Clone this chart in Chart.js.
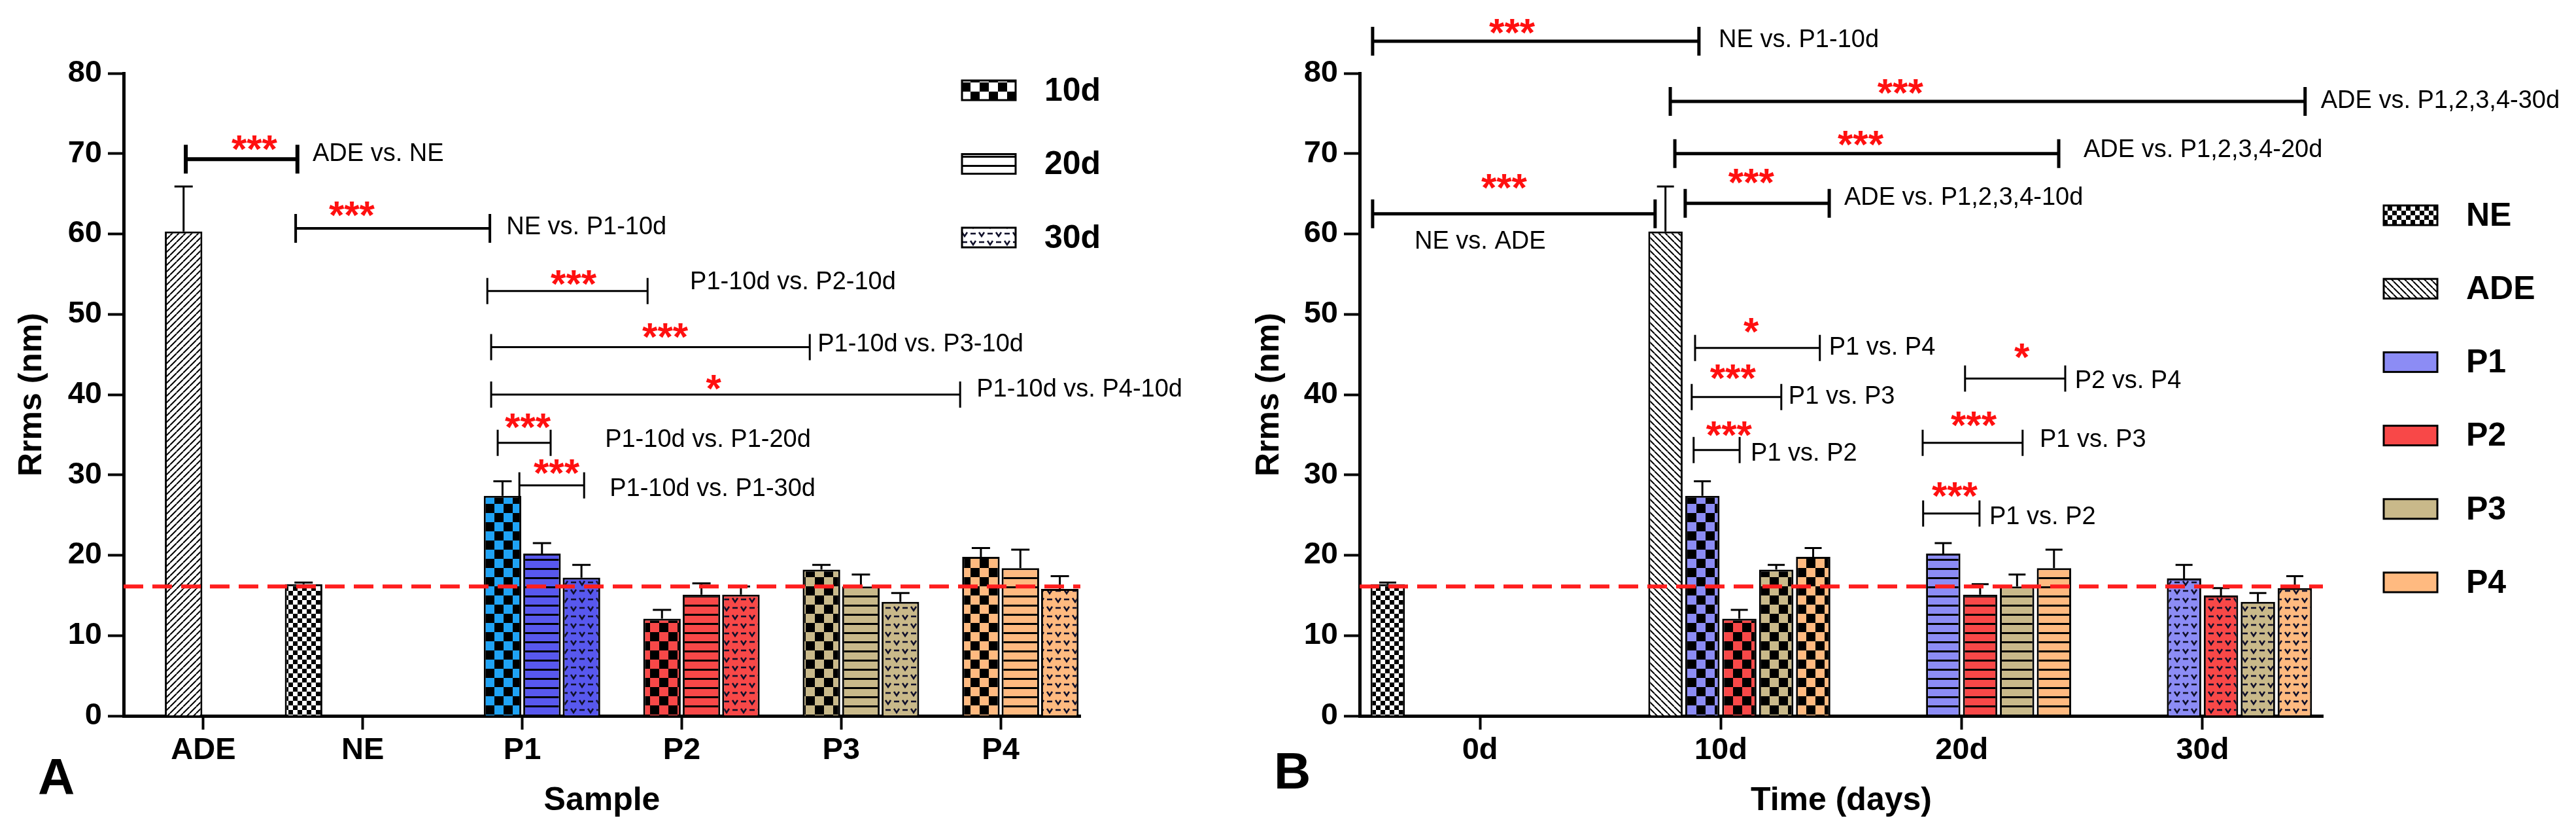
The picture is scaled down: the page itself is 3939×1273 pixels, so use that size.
<!DOCTYPE html>
<html lang="en">
    <head>
        <meta charset="UTF-8" />
        <title>Rrms - sample and time</title>
        <script src="https://cdn.jsdelivr.net/npm/chart.js"></script>
        <style>
            body { margin: 0; background: #fff; width: 3939px; height: 1273px; position: relative; overflow: hidden; }
            canvas { position: absolute; top: 0; }
            #panelA { left: 0; }
            #panelB { left: 1880px; }
        </style>
    </head>
    <body>
        <canvas id="panelA" width="1880" height="1273"></canvas>
        <canvas id="panelB" width="2059" height="1273"></canvas>

        <script>
            // Panel A: Rrms by sample, one series per time point (NE has its own slot)
            const sampleLabels = ["ADE", "NE", "P1", "P2", "P3", "P4"];
            const neRef = [null, 16.4, null, null, null, null];
            const neRefSd = [null, 0.2, null, null, null, null];
            const rrms10 = [60.3, null, 27.4, 12.1, 18.2, 19.8];
            const sd10 = [5.6, null, 1.8, 1.1, 0.6, 1.1];
            const rrms20 = [null, null, 20.2, 15.1, 16.1, 18.4];
            const sd20 = [null, null, 1.3, 1.4, 1.5, 2.3];
            const rrms30 = [null, null, 17.2, 15.1, 14.2, 15.8];
            const sd30 = [null, null, 1.6, 1.0, 1.1, 1.6];

            // Panel B: Rrms by time, one series per sample
            const dayLabels = ["0d", "10d", "20d", "30d"];
            const bNE = [16.4, null, null, null];
            const bNEsd = [0.2, null, null, null];
            const bADE = [null, 60.3, null, null];
            const bADEsd = [null, 5.6, null, null];
            const bP1 = [null, 27.4, 20.2, 17.1];
            const bP1sd = [null, 1.8, 1.3, 1.7];
            const bP2 = [null, 12.1, 15.1, 15.0];
            const bP2sd = [null, 1.1, 1.3, 0.9];
            const bP3 = [null, 18.2, 16.1, 14.2];
            const bP3sd = [null, 0.6, 1.5, 1.1];
            const bP4 = [null, 19.8, 18.4, 15.9];
            const bP4sd = [null, 1.1, 2.3, 1.5];

            const cutoff = 16.1; // NE reference level (red dashed line)

            // significance brackets: [x1, x2, y, width, stars, starX, starY, text, textX, textY]
            // x in category units, y in nm
            const sigA = [
                [-0.11, 0.59, 69.3, 6, "***", 0.32, 71.7, "ADE vs. NE", 0.685, 69.9],
                [0.579, 1.797, 60.7, 4, "***", 0.931, 63.5, "NE vs. P1-10d", 1.9, 60.8],
                [1.781, 2.786, 52.9, 3, "***", 2.322, 54.9, "P1-10d vs. P2-10d", 3.052, 54.0],
                [1.805, 3.803, 45.9, 3, "***", 2.896, 48.3, "P1-10d vs. P3-10d", 3.852, 46.2],
                [1.805, 4.746, 40.0, 3, "*", 3.2, 41.9, "P1-10d vs. P4-10d", 4.849, 40.6],
                [1.846, 2.178, 34.0, 3, "***", 2.035, 37.1, "P1-10d vs. P1-20d", 2.519, 34.3],
                [1.982, 2.388, 28.7, 3, "***", 2.215, 31.4, "P1-10d vs. P1-30d", 2.548, 28.2],
            ];
            const sigB = [
                [-0.446, 0.909, 84.0, 5, "***", 0.133, 86.2, "NE vs. P1-10d", 0.991, 84.1],
                [0.79, 3.426, 76.5, 5, "***", 1.745, 78.7, "ADE vs. P1,2,3,4-30d", 3.491, 76.5],
                [0.809, 2.403, 70.0, 5, "***", 1.58, 72.3, "ADE vs. P1,2,3,4-20d", 2.506, 70.4],
                [0.852, 1.45, 63.8, 5, "***", 1.126, 67.5, "ADE vs. P1,2,3,4-10d", 1.512, 64.5],
                [-0.446, 0.727, 62.5, 5, "***", 0.1, 66.9, "NE vs. ADE", -0.272, 59.0],
                [0.893, 1.411, 45.8, 3, "*", 1.126, 49.0, "P1 vs. P4", 1.449, 45.8],
                [0.879, 1.251, 39.7, 3, "***", 1.05, 43.2, "P1 vs. P3", 1.281, 39.7],
                [0.887, 1.078, 33.1, 3, "***", 1.034, 36.1, "P1 vs. P2", 1.124, 32.6],
                [2.014, 2.43, 42.0, 3, "*", 2.25, 45.8, "P2 vs. P4", 2.47, 41.7],
                [1.838, 2.253, 34.0, 3, "***", 2.05, 37.3, "P1 vs. P3", 2.324, 34.3],
                [1.84, 2.074, 25.2, 3, "***", 1.971, 28.5, "P1 vs. P2", 2.115, 24.7],
            ];

            // fill colours
            const fillA10 = ["#ffffff", "#ffffff", "#1fa3f5", "#f84848", "#c9b98a", "#ffba80"];
            const fillA20 = ["#ffffff", "#ffffff", "#5858ee", "#f84848", "#c9b98a", "#ffba80"];
            const fillA30 = ["#ffffff", "#ffffff", "#5858ee", "#f84848", "#c9b98a", "#ffba80"];
            const fillB = { P1: "#8c8cf5", P2: "#f84848", P3: "#c9b98a", P4: "#ffba80" };

            const FONT = "'Liberation Sans', Arial, sans-serif";
            Chart.defaults.font.family = FONT;
            Chart.defaults.color = "#000";

            // GraphPad-like fill patterns
            function makePattern(kind, color) {
                const c = document.createElement("canvas");
                const g = c.getContext("2d");
                let w = 28, h = 28;
                if (kind === "fine") { w = 14; h = 14; }
                if (kind === "hline") { w = 8; h = 14; }
                if (kind === "diagR" || kind === "diagL") { w = 10; h = 10; }
                if (kind === "vdot") { w = 26; h = 26; }
                c.width = w;
                c.height = h;
                g.fillStyle = color;
                g.fillRect(0, 0, w, h);
                g.fillStyle = "#000";
                g.strokeStyle = "#000";
                if (kind === "check") {
                    g.fillRect(0, 0, 14, 14);
                    g.fillRect(14, 14, 14, 14);
                } else if (kind === "fine") {
                    g.fillRect(0, 0, 7, 7);
                    g.fillRect(7, 7, 7, 7);
                } else if (kind === "hline") {
                    g.fillRect(0, 0, w, 3);
                } else if (kind === "diagR" || kind === "diagL") {
                    g.lineWidth = 2;
                    g.beginPath();
                    for (let i = -1; i <= 1; i++) {
                        if (kind === "diagR") {
                            g.moveTo(i * w, h);
                            g.lineTo(i * w + w, 0);
                        } else {
                            g.moveTo(i * w, 0);
                            g.lineTo(i * w + w, h);
                        }
                    }
                    g.stroke();
                } else if (kind === "vdot") {
                    g.strokeStyle = "#10102a";
                    g.lineWidth = 2.6;
                    const vee = (x, y) => {
                        g.beginPath();
                        g.moveTo(x - 4, y - 3);
                        g.lineTo(x, y + 3);
                        g.lineTo(x + 4, y - 3);
                        g.stroke();
                    };
                    const dash = (x, y) => {
                        g.beginPath();
                        g.moveTo(x - 4, y);
                        g.lineTo(x + 4, y);
                        g.stroke();
                    };
                    vee(6, 7);
                    dash(19, 6);
                    vee(19, 20);
                    dash(6, 19);
                }
                return g.createPattern(c, "repeat");
            }

            function makeOverlay(cfg) {
                return {
                    id: "overlay",
                    afterDatasetsDraw(chart) {
                        const ctx = chart.ctx;
                        const xs = chart.scales.x;
                        const ys = chart.scales.y;
                        const area = chart.chartArea;
                        ctx.save();

                        // error bars (upper only)
                        ctx.strokeStyle = "#000";
                        ctx.lineWidth = 3;
                        chart.data.datasets.forEach((ds, i) => {
                            const meta = chart.getDatasetMeta(i);
                            ds.data.forEach((v, j) => {
                                if (v === null || ds.sd[j] == null) return;
                                const bar = meta.data[j];
                                const yTop = ys.getPixelForValue(v + ds.sd[j]);
                                ctx.beginPath();
                                ctx.moveTo(bar.x, bar.y);
                                ctx.lineTo(bar.x, yTop);
                                ctx.moveTo(bar.x - cfg.cap, yTop);
                                ctx.lineTo(bar.x + cfg.cap, yTop);
                                ctx.stroke();
                            });
                        });

                        // NE reference line
                        const yc = ys.getPixelForValue(cutoff);
                        ctx.setLineDash([30, 14]);
                        ctx.strokeStyle = "#ff1e1e";
                        ctx.lineWidth = 6;
                        ctx.beginPath();
                        ctx.moveTo(area.left, yc);
                        ctx.lineTo(area.right, yc);
                        ctx.stroke();
                        ctx.setLineDash([]);

                        // significance brackets
                        cfg.sig.forEach((b) => {
                            const x1 = xs.getPixelForValue(b[0]);
                            const x2 = xs.getPixelForValue(b[1]);
                            const y = ys.getPixelForValue(b[2]);
                            const hh = b[3] > 3 ? 22 : 20;
                            ctx.strokeStyle = "#000";
                            ctx.lineWidth = b[3];
                            ctx.beginPath();
                            ctx.moveTo(x1, y);
                            ctx.lineTo(x2, y);
                            ctx.moveTo(x1, y - hh);
                            ctx.lineTo(x1, y + hh);
                            ctx.moveTo(x2, y - hh);
                            ctx.lineTo(x2, y + hh);
                            ctx.stroke();

                            ctx.fillStyle = "#ff1010";
                            ctx.font = "bold 60px " + FONT;
                            ctx.textAlign = "center";
                            ctx.textBaseline = "alphabetic";
                            ctx.fillText(b[4], xs.getPixelForValue(b[5]), ys.getPixelForValue(b[6]) + 34);

                            ctx.fillStyle = "#000";
                            ctx.font = "38px " + FONT;
                            ctx.textAlign = "left";
                            ctx.textBaseline = "middle";
                            ctx.fillText(b[7], xs.getPixelForValue(b[8]), ys.getPixelForValue(b[9]));
                        });

                        // legend
                        const lg = cfg.legend;
                        chart.data.datasets.forEach((ds, i) => {
                            if (!ds.swatch) return;
                            const k = i - lg.first;
                            const cy = lg.y + k * lg.step;
                            ctx.fillStyle = ds.swatch;
                            ctx.fillRect(lg.x, cy - 15, 82, 30);
                            ctx.strokeStyle = "#000";
                            ctx.lineWidth = 3;
                            ctx.strokeRect(lg.x, cy - 15, 82, 30);
                            ctx.fillStyle = "#000";
                            ctx.font = "bold 50px " + FONT;
                            ctx.textAlign = "left";
                            ctx.textBaseline = "middle";
                            ctx.fillText(ds.label, lg.x + 126, cy + 2);
                        });

                        // panel letter
                        ctx.fillStyle = "#000";
                        ctx.font = "bold 78px " + FONT;
                        ctx.textAlign = "left";
                        ctx.textBaseline = "alphabetic";
                        ctx.fillText(cfg.letter, cfg.letterX, cfg.letterY);

                        ctx.restore();
                    },
                };
            }

            function yAxis(width, titlePad) {
                return {
                    min: 0,
                    max: 80,
                    ticks: { stepSize: 10, padding: 9, font: { size: 47, weight: "bold" } },
                    grid: { drawOnChartArea: false, tickLength: 24, tickWidth: 4, color: "#000" },
                    border: { color: "#000", width: 5 },
                    title: {
                        display: true,
                        text: "Rrms (nm)",
                        padding: { top: titlePad, bottom: 0 },
                        font: { size: 50, weight: "bold" },
                    },
                    afterFit: (s) => { s.width = width; },
                };
            }

            function xAxis(title) {
                return {
                    ticks: { padding: 4, font: { size: 47, weight: "bold" } },
                    grid: { offset: false, drawOnChartArea: false, tickLength: 21, tickWidth: 4, color: "#000" },
                    border: { color: "#000", width: 5 },
                    title: {
                        display: true,
                        text: title,
                        padding: { top: 0, bottom: 0 },
                        font: { size: 50, weight: "bold" },
                    },
                    afterFit: (s) => { s.height = 160; },
                };
            }

            const white = "#ffffff";

            // ---------- Panel A ----------
            const datasetsA = [
                {
                    label: "NE",
                    data: neRef,
                    sd: neRefSd,
                    backgroundColor: sampleLabels.map(() => makePattern("fine", white)),
                },
                {
                    label: "10d",
                    data: rrms10,
                    sd: sd10,
                    backgroundColor: fillA10.map((c, i) => makePattern(i === 0 ? "diagR" : "check", c)),
                    swatch: makePattern("check", white),
                },
                {
                    label: "20d",
                    data: rrms20,
                    sd: sd20,
                    backgroundColor: fillA20.map((c) => makePattern("hline", c)),
                    swatch: makePattern("hline", white),
                },
                {
                    label: "30d",
                    data: rrms30,
                    sd: sd30,
                    backgroundColor: fillA30.map((c) => makePattern("vdot", c)),
                    swatch: makePattern("vdot", white),
                },
            ];
            datasetsA.forEach((d) => {
                d.borderColor = "#000";
                d.borderWidth = 3;
                d.categoryPercentage = 0.99;
                d.barPercentage = 0.95;
            });

            new Chart(document.getElementById("panelA"), {
                type: "bar",
                data: { labels: sampleLabels, datasets: datasetsA },
                options: {
                    responsive: false,
                    animation: false,
                    events: [],
                    layout: { padding: { left: 0, top: 112, right: 228, bottom: 19 } },
                    plugins: { legend: { display: false }, tooltip: { enabled: false } },
                    scales: { x: xAxis("Sample"), y: yAxis(189, 19) },
                },
                plugins: [
                    makeOverlay({
                        sig: sigA,
                        cap: 14,
                        legend: { first: 1, x: 1471, y: 138, step: 112.5 },
                        letter: "A",
                        letterX: 58,
                        letterY: 1214,
                    }),
                ],
            });

            // ---------- Panel B ----------
            const seriesB = [
                ["NE", bNE, bNEsd, null],
                ["ADE", bADE, bADEsd, null],
                ["P1", bP1, bP1sd, fillB.P1],
                ["P2", bP2, bP2sd, fillB.P2],
                ["P3", bP3, bP3sd, fillB.P3],
                ["P4", bP4, bP4sd, fillB.P4],
            ];
            const timePattern = [null, "check", "hline", "vdot"];
            const datasetsB = seriesB.map(([name, vals, sds, col]) => {
                let bg, sw;
                if (name === "NE") {
                    bg = dayLabels.map(() => makePattern("fine", white));
                    sw = makePattern("fine", white);
                } else if (name === "ADE") {
                    bg = dayLabels.map(() => makePattern("diagL", white));
                    sw = makePattern("diagL", white);
                } else {
                    bg = dayLabels.map((d, i) => makePattern(timePattern[i] || "check", col));
                    sw = col;
                }
                return {
                    label: name,
                    data: vals,
                    sd: sds,
                    backgroundColor: bg,
                    swatch: sw,
                    borderColor: "#000",
                    borderWidth: 3,
                    categoryPercentage: 0.92,
                    barPercentage: 0.93,
                };
            });

            new Chart(document.getElementById("panelB"), {
                type: "bar",
                data: { labels: dayLabels, datasets: datasetsB },
                options: {
                    responsive: false,
                    animation: false,
                    events: [],
                    layout: { padding: { left: 0, top: 112, right: 387, bottom: 19 } },
                    plugins: { legend: { display: false }, tooltip: { enabled: false } },
                    scales: { x: xAxis("Time (days)"), y: yAxis(199, 31) },
                },
                plugins: [
                    makeOverlay({
                        sig: sigB,
                        cap: 13,
                        legend: { first: 0, x: 1765, y: 329, step: 112.2 },
                        letter: "B",
                        letterX: 68,
                        letterY: 1205,
                    }),
                ],
            });
        </script>
    </body>
</html>
